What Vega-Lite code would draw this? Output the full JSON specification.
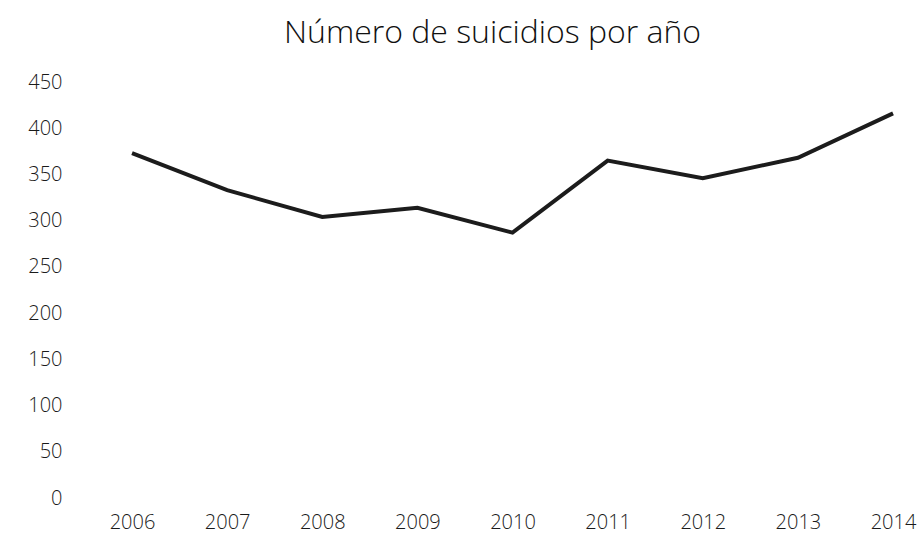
{
  "$schema": "https://vega.github.io/schema/vega-lite/v6.json",
  "autosize": "none",
  "width": 845,
  "height": 416,
  "padding": {"left": 70, "top": 82, "right": 4, "bottom": 47},
  "background": "white",
  "config": {"view": {"stroke": null}},
  "title": {
    "text": "Número de suicidios por año",
    "font": "Open Sans",
    "fontSize": 32,
    "fontWeight": 300,
    "color": "#111",
    "anchor": "middle",
    "offset": 22
  },
  "data": {
    "values": [
      {"year": 2006, "suicidios": 373},
      {"year": 2007, "suicidios": 333},
      {"year": 2008, "suicidios": 304},
      {"year": 2009, "suicidios": 314},
      {"year": 2010, "suicidios": 287},
      {"year": 2011, "suicidios": 365},
      {"year": 2012, "suicidios": 346},
      {"year": 2013, "suicidios": 368},
      {"year": 2014, "suicidios": 416}
    ]
  },
  "mark": {"type": "line", "color": "#1c1c1c", "strokeWidth": 4, "strokeJoin": "miter"},
  "encoding": {
    "x": {
      "field": "year",
      "type": "quantitative",
      "scale": {"domain": [2005.348, 2014.231], "nice": false, "zero": false},
      "axis": {
        "values": [2006, 2007, 2008, 2009, 2010, 2011, 2012, 2013, 2014],
        "format": "d",
        "title": null,
        "domain": false,
        "ticks": false,
        "grid": false,
        "labelFont": "Open Sans",
        "labelFontSize": 20,
        "labelFontWeight": 300,
        "labelColor": "#1a1a1a",
        "labelPadding": 14,
        "labelFlush": false,
        "labelOverlap": false
      }
    },
    "y": {
      "field": "suicidios",
      "type": "quantitative",
      "scale": {"domain": [0, 450], "nice": false},
      "axis": {
        "values": [0, 50, 100, 150, 200, 250, 300, 350, 400, 450],
        "title": null,
        "domain": false,
        "ticks": false,
        "grid": false,
        "labelFont": "Open Sans",
        "labelFontSize": 20,
        "labelFontWeight": 300,
        "labelColor": "#1a1a1a",
        "labelPadding": 8
      }
    }
  }
}
